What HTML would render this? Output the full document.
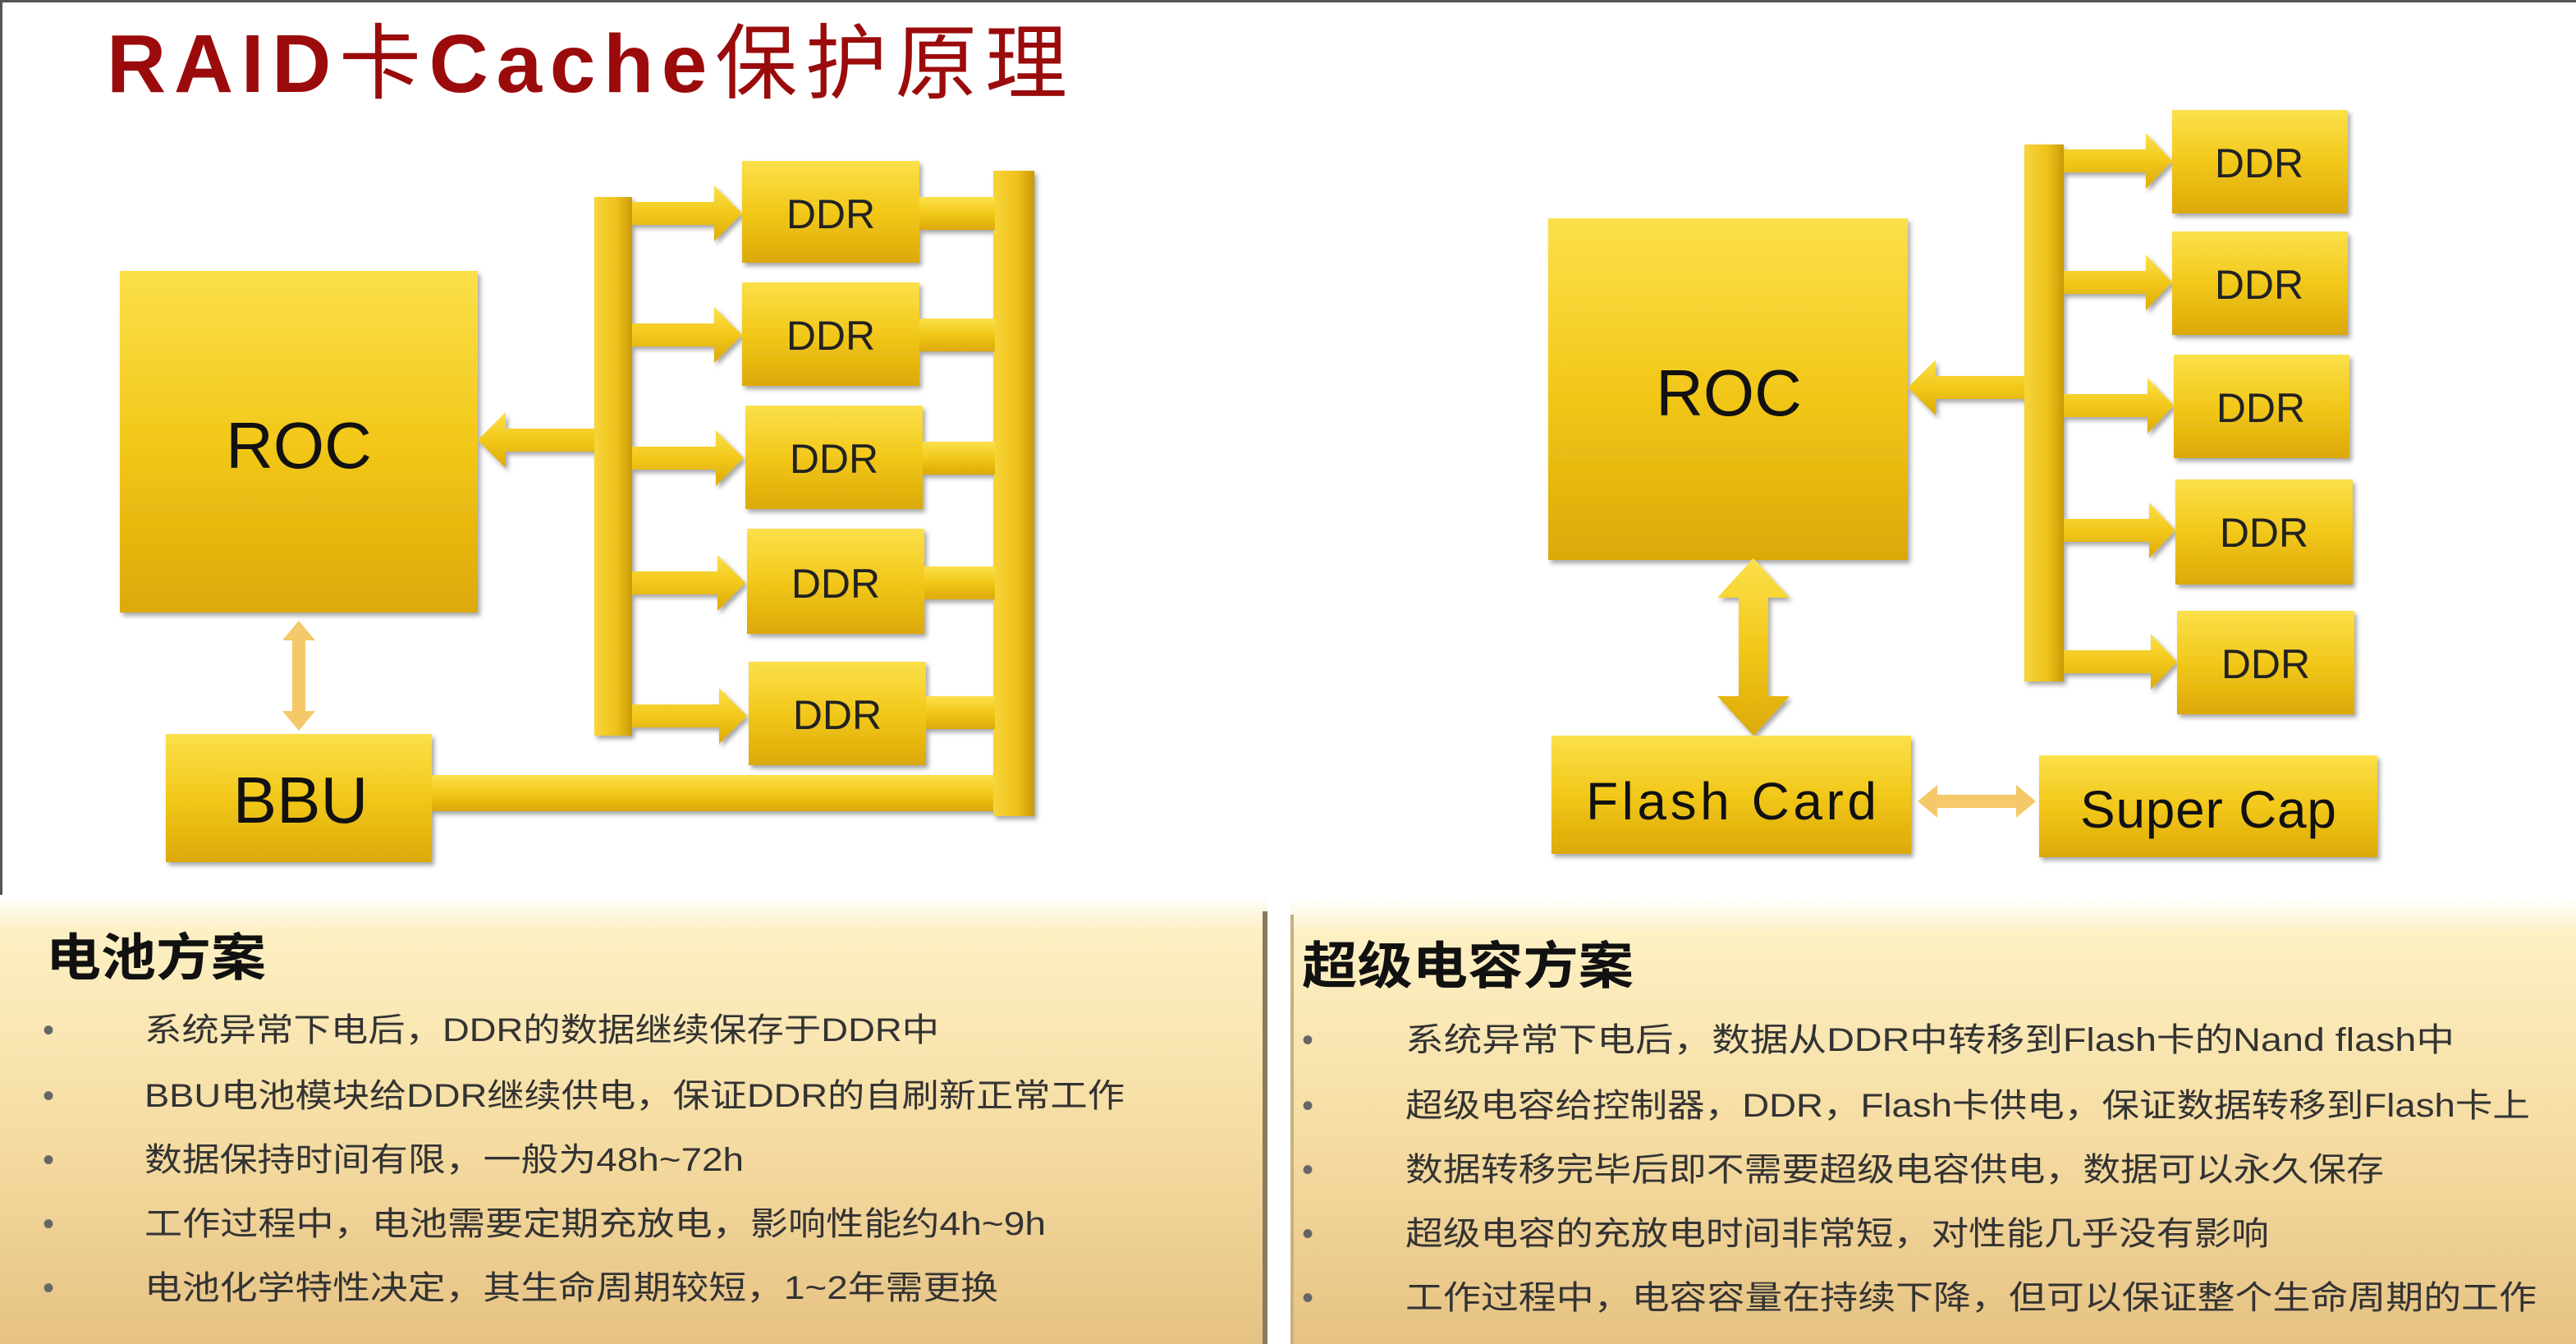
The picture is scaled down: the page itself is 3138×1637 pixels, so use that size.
<!DOCTYPE html>
<html><head><meta charset="utf-8"><style>
html,body{margin:0;padding:0;background:#fff;}
svg{display:block}
text{font-family:"Liberation Sans","Noto Sans CJK SC",sans-serif;}
</style></head><body>
<svg width="3138" height="1637" viewBox="0 0 1569 818.5" xmlns="http://www.w3.org/2000/svg">
<defs>
<linearGradient id="g" x1="0" y1="0" x2="0" y2="1">
<stop offset="0" stop-color="#fbe04a"/><stop offset="0.5" stop-color="#f2c81a"/><stop offset="1" stop-color="#dca906"/>
</linearGradient>
<linearGradient id="gv" x1="0" y1="0" x2="1" y2="0">
<stop offset="0" stop-color="#f7d53a"/><stop offset="0.6" stop-color="#eec01a"/><stop offset="1" stop-color="#c89a05"/>
</linearGradient>
<linearGradient id="p" x1="0" y1="0" x2="0" y2="1">
<stop offset="0" stop-color="#ffffff"/><stop offset="0.08" stop-color="#fdf0c4"/><stop offset="0.5" stop-color="#f6dea4"/><stop offset="1" stop-color="#e6c283"/>
</linearGradient>
<filter id="s" x="-10%" y="-10%" width="130%" height="130%"><feDropShadow dx="1.5" dy="2" stdDeviation="1.5" flood-color="#000" flood-opacity="0.35"/></filter>
</defs>
<rect x="0" y="0" width="1569" height="1.5" fill="#555"/>
<rect x="0" y="0" width="1.5" height="818.5" fill="#555"/>
<text x="65" y="56" font-size="50" fill="#9b0b0b" textLength="585" lengthAdjust="spacing"><tspan font-weight="bold">RAID</tspan>卡<tspan font-weight="bold">Cache</tspan>保护原理</text>

<!-- LEFT DIAGRAM -->
<g filter="url(#s)">
<rect x="73" y="165" width="218" height="208" fill="url(#g)"/>
<rect x="101" y="447" width="162" height="78" fill="url(#g)"/>
<rect x="263" y="472" width="344" height="22" fill="url(#g)"/>
<rect x="605" y="104" width="25" height="393" fill="url(#gv)"/>
<rect x="362" y="120" width="23" height="328" fill="url(#gv)"/>
<rect x="560" y="120" width="46" height="20" fill="url(#g)"/>
<rect x="560" y="194" width="46" height="20" fill="url(#g)"/>
<rect x="562" y="269" width="44" height="20" fill="url(#g)"/>
<rect x="562" y="345" width="44" height="20" fill="url(#g)"/>
<rect x="563" y="424" width="43" height="20" fill="url(#g)"/>
<rect x="452" y="98" width="108" height="62" fill="url(#g)"/>
<rect x="452" y="172" width="108" height="63" fill="url(#g)"/>
<rect x="454" y="247" width="108" height="63" fill="url(#g)"/>
<rect x="455" y="322" width="108" height="64" fill="url(#g)"/>
<rect x="456" y="403" width="108" height="63" fill="url(#g)"/>
<g fill="url(#g)">
<path d="M385 123 h50 v-10 l17 17 l-17 17 v-10 h-50z"/>
<path d="M385 197 h50 v-10 l17 17 l-17 17 v-10 h-50z"/>
<path d="M385 272 h51 v-10 l17 17 l-17 17 v-10 h-51z"/>
<path d="M385 348 h52 v-10 l17 17 l-17 17 v-10 h-52z"/>
<path d="M385 429 h53 v-10 l17 17 l-17 17 v-10 h-53z"/>
<path d="M362 261 h-54 v-10 l-17 17 l17 17 v-10 h54z"/>
</g>
</g>
<path d="M182 378 l-10 12 h6 v43 h-6 l10 12 l10 -12 h-6 v-43 h6z" fill="#f5c86a"/>
<g font-size="40" text-anchor="middle" fill="#111">
<text x="182" y="285">ROC</text>
<text x="183" y="501">BBU</text>
</g>
<g font-size="25" text-anchor="middle" fill="#222">
<text x="506" y="139">DDR</text>
<text x="506" y="213">DDR</text>
<text x="508" y="288">DDR</text>
<text x="509" y="364">DDR</text>
<text x="510" y="444">DDR</text>
</g>

<!-- RIGHT DIAGRAM -->
<g filter="url(#s)">
<rect x="943" y="133" width="219" height="208" fill="url(#g)"/>
<rect x="945" y="448" width="219" height="72" fill="url(#g)"/>
<rect x="1242" y="460" width="206" height="62" fill="url(#g)"/>
<rect x="1233" y="88" width="24" height="327" fill="url(#gv)"/>
<rect x="1323" y="67" width="107" height="63" fill="url(#g)"/>
<rect x="1323" y="141" width="107" height="63" fill="url(#g)"/>
<rect x="1324" y="216" width="107" height="63" fill="url(#g)"/>
<rect x="1325" y="292" width="108" height="64" fill="url(#g)"/>
<rect x="1326" y="372" width="108" height="63" fill="url(#g)"/>
<g fill="url(#g)">
<path d="M1257 91 h50 v-10 l16 17 l-16 17 v-10 h-50z"/>
<path d="M1257 165 h50 v-10 l16 17 l-16 17 v-10 h-50z"/>
<path d="M1257 240 h51 v-10 l16 17 l-16 17 v-10 h-51z"/>
<path d="M1257 316 h52 v-10 l16 17 l-16 17 v-10 h-52z"/>
<path d="M1257 396 h53 v-10 l16 17 l-16 17 v-10 h-53z"/>
<path d="M1233 229 h-54 v-10 l-17 17 l17 17 v-10 h54z"/>
<path d="M1068 340 l-22 24 h13 v60 h-13 l22 24 l22 -24 h-13 v-60 h13z"/>
</g>
</g>
<path d="M1168 488 l12 -10 v6 h48 v-6 l12 10 l-12 10 v-6 h-48 v6z" fill="#f5c86a"/>
<text x="1053" y="253" font-size="40" text-anchor="middle" fill="#111">ROC</text>
<g font-size="32" fill="#111">
<text x="966" y="499" textLength="177" lengthAdjust="spacing">Flash Card</text>
<text x="1267" y="504" textLength="156" lengthAdjust="spacing">Super Cap</text>
</g>
<g font-size="25" text-anchor="middle" fill="#222">
<text x="1376" y="108">DDR</text>
<text x="1376" y="182">DDR</text>
<text x="1377" y="257">DDR</text>
<text x="1379" y="333">DDR</text>
<text x="1380" y="413">DDR</text>
</g>

<!-- PANELS -->
<rect x="0" y="545" width="772" height="274" fill="url(#p)"/>
<rect x="769" y="555" width="3" height="264" fill="#8a7a5a"/>
<rect x="786" y="547" width="783" height="272" fill="url(#p)"/>
<rect x="786" y="557" width="2" height="262" fill="#c9b080"/>
<text x="28" y="594" font-size="31" font-weight="bold" fill="#111" textLength="134" lengthAdjust="spacingAndGlyphs">电池方案</text>
<g font-size="20" fill="#333" lengthAdjust="spacingAndGlyphs">
<text x="26" y="634" fill="#666">•</text><text x="88" y="634" textLength="484" lengthAdjust="spacingAndGlyphs">系统异常下电后，DDR的数据继续保存于DDR中</text>
<text x="26" y="674" fill="#666">•</text><text x="88" y="674" textLength="597" lengthAdjust="spacingAndGlyphs">BBU电池模块给DDR继续供电，保证DDR的自刷新正常工作</text>
<text x="26" y="713" fill="#666">•</text><text x="88" y="713" textLength="365" lengthAdjust="spacingAndGlyphs">数据保持时间有限，一般为48h~72h</text>
<text x="26" y="752" fill="#666">•</text><text x="88" y="752" textLength="549" lengthAdjust="spacingAndGlyphs">工作过程中，电池需要定期充放电，影响性能约4h~9h</text>
<text x="26" y="791" fill="#666">•</text><text x="88" y="791" textLength="520" lengthAdjust="spacingAndGlyphs">电池化学特性决定，其生命周期较短，1~2年需更换</text>
</g>
<text x="793" y="599" font-size="31" font-weight="bold" fill="#111" textLength="202" lengthAdjust="spacingAndGlyphs">超级电容方案</text>
<g font-size="20" fill="#333">
<text x="793" y="640" fill="#666">•</text><text x="856" y="640" textLength="639" lengthAdjust="spacingAndGlyphs">系统异常下电后，数据从DDR中转移到Flash卡的Nand flash中</text>
<text x="793" y="680" fill="#666">•</text><text x="856" y="680" textLength="685" lengthAdjust="spacingAndGlyphs">超级电容给控制器，DDR，Flash卡供电，保证数据转移到Flash卡上</text>
<text x="793" y="719" fill="#666">•</text><text x="856" y="719" textLength="596" lengthAdjust="spacingAndGlyphs">数据转移完毕后即不需要超级电容供电，数据可以永久保存</text>
<text x="793" y="758" fill="#666">•</text><text x="856" y="758" textLength="526" lengthAdjust="spacingAndGlyphs">超级电容的充放电时间非常短，对性能几乎没有影响</text>
<text x="793" y="797" fill="#666">•</text><text x="856" y="797" textLength="689" lengthAdjust="spacingAndGlyphs">工作过程中，电容容量在持续下降，但可以保证整个生命周期的工作</text>
</g>
</svg>
</body></html>
